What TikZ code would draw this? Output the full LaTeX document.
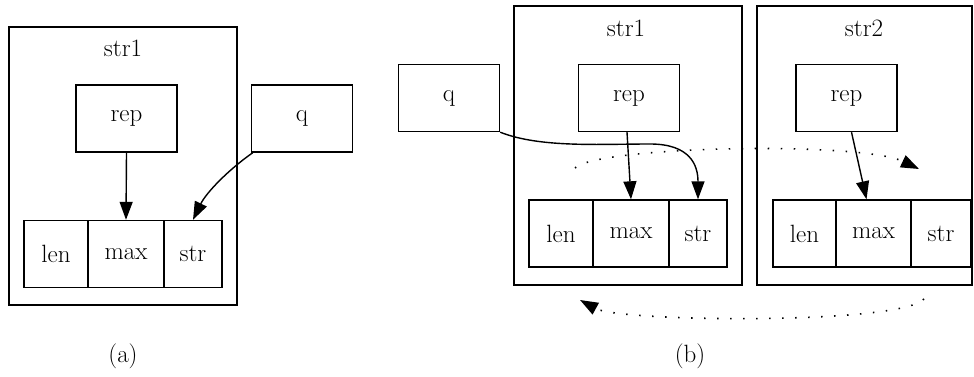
\documentclass[tikz,border=0pt]{standalone}
\usetikzlibrary{arrows.meta}
\begin{document}
\begin{tikzpicture}[x=1pt,y=-1pt,
  every node/.style={font=\fontsize{25}{29}\selectfont},
  cluster/.style={draw,line width=1.4pt,rectangle,inner sep=0pt},
  box/.style={draw,line width=1.4pt,rectangle,inner sep=0pt,minimum width=101pt,minimum height=67pt},
  fld/.style={draw,line width=1.4pt,rectangle,inner sep=0pt,minimum height=67pt},
  lbl/.style={inner sep=0pt},
  edge/.style={line width=1.4pt,-{Triangle[length=18pt,width=13pt]}},
  dots/.style={line width=1.6pt,dash pattern=on 1.5pt off 11.5pt,-{Triangle[length=18pt,width=13pt]}}]
\useasboundingbox (0,0) rectangle (974,377);
% ---------- (a) ----------
\draw[cluster] (9,27) rectangle (237,305);
\node[lbl] (tA) at (123,48) {str1};
\node[box] (repA) at (126.5,118.5) {rep};
\node[box] (qA) at (302,118.5) {q};
\node[fld,minimum width=64pt] (lenA) at (56,254) {len};
\node[fld,minimum width=76pt] (maxA) at (126,254) {max};
\node[fld,minimum width=58pt] (strA) at (193,254) {str};
\draw[edge] (repA.south) -- (maxA.north);
\draw[edge] ([xshift=2pt]qA.south west) .. controls (228,170) and (206,193) .. (strA.north);
\node[lbl] (capA) at (123,356) {(a)};
% ---------- (b) ----------
\draw[cluster] (514,6) rectangle (742,285);
\node[lbl] (tB1) at (626,28) {str1};
\draw[cluster] (757,6) rectangle (972,285);
\node[lbl] (tB2) at (864,28) {str2};
\node[box] (qB) at (449,98) {q};
\node[box] (repB) at (629,98) {rep};
\node[fld,minimum width=64pt] (lenB) at (561,233.5) {len};
\node[fld,minimum width=76pt] (maxB) at (631,233.5) {max};
\node[fld,minimum width=58pt] (strB) at (698,233.5) {str};
\node[box] (repC) at (846.5,98) {rep};
\node[fld,minimum width=63pt] (lenC) at (804.5,233.5) {len};
\node[fld,minimum width=75pt] (maxC) at (873.5,233.5) {max};
\node[fld,minimum width=60pt] (strC) at (941,233.5) {str};
\draw[edge] ([xshift=-2pt]repB.south) -- (maxB.north);
\draw[edge] ([xshift=5pt]repC.south) -- ([xshift=-7pt]maxC.north);
\draw[edge] (qB.south east) .. controls (540,148) and (600,144) .. (650,144)
  .. controls (690,144) and (698,165) .. (strB.north);
\coordinate (d1) at (575,168);
\coordinate (d2) at (919,169);
\draw[dots] (d1) .. controls (598,146) and (860,141) .. (d2);
\coordinate (d3) at (924,299);
\coordinate (d4) at (580,300);
\draw[dots] (d3) .. controls (900,325) and (620,322) .. (d4);
\node[lbl] (capB) at (690,356) {(b)};
\end{tikzpicture}
\end{document}
